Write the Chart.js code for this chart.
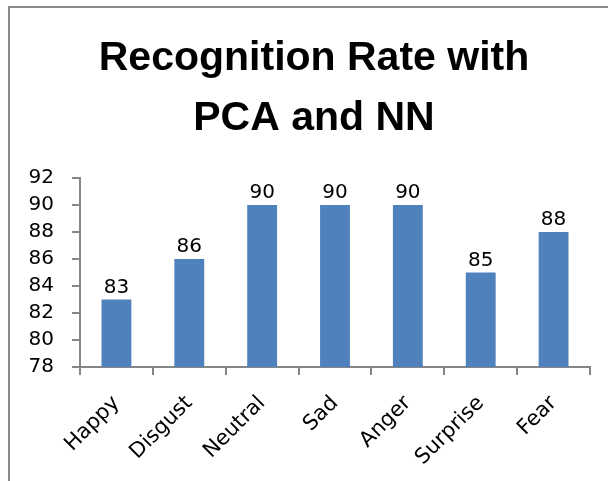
<!DOCTYPE html>
<html>
<head>
<meta charset="utf-8">
<script src="https://cdn.jsdelivr.net/npm/chart.js@4.4.1/dist/chart.umd.min.js"></script>
<style>
  html, body { margin: 0; padding: 0; background: #fff; }
  #wrap { position: relative; width: 608px; height: 481px; overflow: hidden; }
  #frame {
    position: absolute; left: 8px; top: 6px; width: 700px; height: 600px;
    border-left: 2px solid #8a8a8a; border-top: 2px solid #8a8a8a;
  }
  #chart { position: absolute; left: 0; top: 0; }
</style>
</head>
<body>
<div id="wrap">
  <div id="frame"></div>
  <canvas id="chart" width="608" height="481"></canvas>
</div>
<script>
// Chart data
const emotions = ['Happy', 'Disgust', 'Neutral', 'Sad', 'Anger', 'Surprise', 'Fear'];
const rates = [83, 86, 90, 90, 90, 85, 88];
const titleLines = ['Recognition Rate with', 'PCA and NN'];
const yMin = 78, yMax = 92, yStep = 2;

const labelFont = '"DejaVu Sans", sans-serif';
const titleFont = '"Liberation Sans", Arial, sans-serif';
const axisGray = '#868686';

// draws the value above each bar
const valueLabels = {
    id: 'valueLabels',
    afterDatasetsDraw(chart) {
        const ctx = chart.ctx;
        const meta = chart.getDatasetMeta(0);
        ctx.save();
        ctx.font = '20px ' + labelFont;
        ctx.fillStyle = '#000';
        ctx.textAlign = 'center';
        ctx.textBaseline = 'alphabetic';
        meta.data.forEach(function (bar, i) {
            ctx.fillText(rates[i], bar.x, bar.y - 7);
        });
        ctx.restore();
    }
};

const ctx = document.getElementById('chart').getContext('2d');
const chart = new Chart(ctx, {
    type: 'bar',
    data: {
        labels: emotions,
        datasets: [{
            label: 'Recognition Rate',
            data: rates,
            backgroundColor: '#4f81bd',
            borderWidth: 0,
            barPercentage: 0.41,
            categoryPercentage: 1
        }]
    },
    options: {
        responsive: false,
        animation: false,
        layout: { padding: { left: 20, right: 0, top: 0, bottom: 0 } },
        plugins: {
            legend: { display: false },
            tooltip: { enabled: false },
            title: {
                display: true,
                text: titleLines,
                color: '#000',
                font: { family: titleFont, size: 41, weight: 'bold', lineHeight: '60px' },
                padding: { top: 29, bottom: 29 }
            }
        },
        scales: {
            y: {
                min: yMin,
                max: yMax,
                ticks: {
                    stepSize: yStep,
                    color: '#000',
                    font: { family: labelFont, size: 20 },
                    padding: 18
                },
                grid: { drawOnChartArea: false, drawTicks: true, tickLength: 8, color: axisGray, lineWidth: 2 },
                border: { display: true, color: axisGray, width: 2 },
                afterFit(scale) { scale.width = 60; }
            },
            // empty right-hand margin so the plot ends where the original does
            yRight: {
                type: 'linear',
                position: 'right',
                ticks: { display: false },
                grid: { display: false },
                border: { display: false },
                afterFit(scale) { scale.width = 18; }
            },
            x: {
                ticks: {
                    color: '#000',
                    font: { family: labelFont, size: 21 },
                    maxRotation: 45,
                    minRotation: 45,
                    padding: 16
                },
                grid: { drawOnChartArea: false, drawTicks: true, tickLength: 8, color: axisGray, lineWidth: 2, offset: true },
                border: { display: true, color: axisGray, width: 2 },
                afterFit(scale) { scale.height = 114; }
            }
        }
    },
    plugins: [valueLabels]
});
</script>
</body>
</html>
